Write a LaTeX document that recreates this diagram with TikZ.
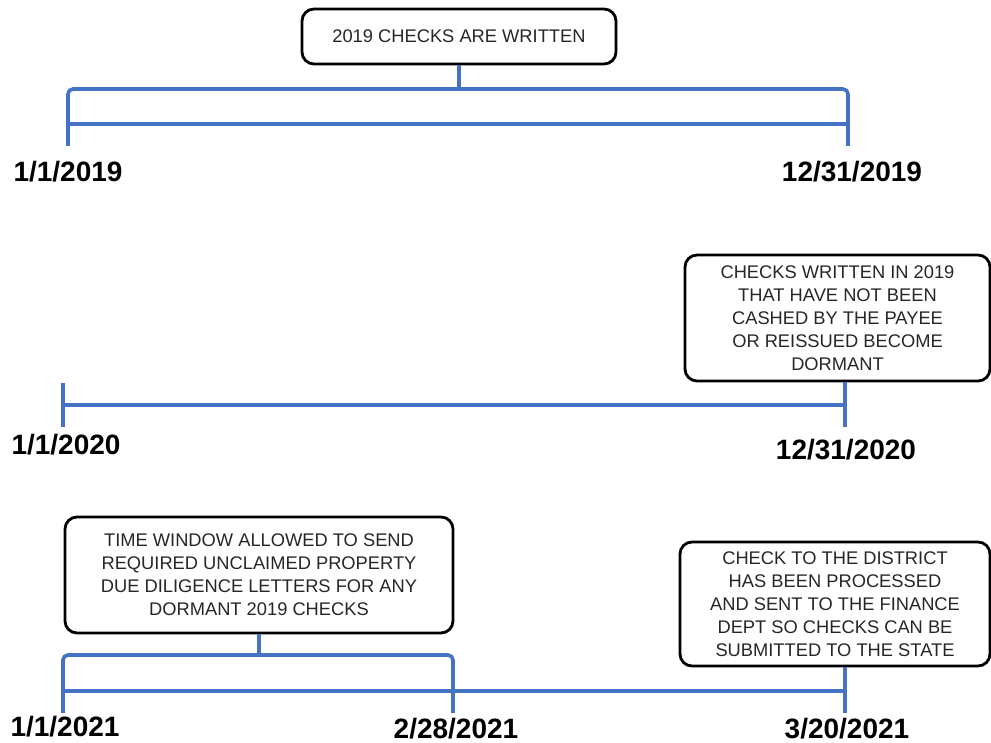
\documentclass[tikz,border=0pt]{standalone}
\usepackage{fontspec}
\setmainfont{Liberation Sans}
\usetikzlibrary{positioning}
\definecolor{lineblue}{RGB}{68,114,196}

\begin{document}
\begin{tikzpicture}[x=1pt, y=-1pt,
    tl/.style={draw=lineblue, line width=3.6pt},
    tick/.style={draw=lineblue, line width=4.2pt},
    note/.style={draw, line width=2.8pt, rounded corners=12pt, align=center,
      inner sep=0pt, text=black!85, font=\fontsize{18.3}{23}\selectfont},
    date/.style={anchor=base, font=\fontsize{28}{30}\selectfont\bfseries}]
    \useasboundingbox (0,0) rectangle (991,742);
    % Year 2019
    \coordinate (s19) at (68,124);
    \coordinate (e19) at (848,124);
    \draw[tl] (s19) -- (e19);
    \foreach \p in {s19, e19} {
      \draw[tick] ([yshift=24pt]\p) -- ([yshift=-22pt]\p);
    }
    \draw[tl, rounded corners=5pt] ([yshift=24pt]s19) -- ([yshift=35pt]s19)
         -- ([yshift=35pt]e19) -- ([yshift=24pt]e19);
    \node[note, minimum width=314pt, minimum height=55pt] (w19) at (459,36.5)
         {2019 CHECKS ARE WRITTEN};
    \draw[tl] (w19.south) -- (w19.south |- 0,89);
    \node[date] (d19a) at (68,181) {1/1/2019};
    \node[date] (d19b) at (852,181) {12/31/2019};
    % Year 2020
    \coordinate (s20) at (63,405);
    \coordinate (e20) at (845,405);
    \draw[tl] (s20) -- (e20);
    \draw[tick] ([yshift=22pt]s20) -- ([yshift=-22pt]s20);
    \node[note, minimum width=305pt, minimum height=126pt] (n20) at (837.5,318)
         {CHECKS WRITTEN IN 2019\\THAT HAVE NOT BEEN\\CASHED BY THE PAYEE\\OR REISSUED BECOME\\DORMANT};
    \draw[tick] (n20.south -| e20) -- ([yshift=-22pt]e20);
    \node[date] (d20a) at (66,454) {1/1/2020};
    \node[date] (d20b) at (846,459) {12/31/2020};
    % Year 2021
    \coordinate (s21) at (63,691);
    \coordinate (m21) at (453,691);
    \coordinate (e21) at (845,691);
    \draw[tl] (s21) -- (e21);
    \foreach \p in {s21, m21} {
      \draw[tick] ([yshift=22pt]\p) -- ([yshift=-22pt]\p);
    }
    \draw[tl, rounded corners=5pt] ([yshift=22pt]s21) -- ([yshift=36pt]s21)
         -- ([yshift=36pt]m21) -- ([yshift=22pt]m21);
    \node[note, minimum width=388pt, minimum height=116pt] (n21a) at (259,575)
         {TIME WINDOW ALLOWED TO SEND\\REQUIRED UNCLAIMED PROPERTY\\DUE DILIGENCE LETTERS FOR ANY\\DORMANT 2019 CHECKS};
    \draw[tl] (n21a.south) -- (n21a.south |- 0,655);
    \node[note, minimum width=310pt, minimum height=124pt] (n21b) at (835,604)
         {CHECK TO THE DISTRICT\\HAS BEEN PROCESSED\\AND SENT TO THE FINANCE\\DEPT SO CHECKS CAN BE\\SUBMITTED TO THE STATE};
    \draw[tick] (n21b.south -| e21) -- ([yshift=-22pt]e21);
    \node[date] (d21a) at (65,736) {1/1/2021};
    \node[date] (d21b) at (456,738) {2/28/2021};
    \node[date] (d21c) at (847,738) {3/20/2021};
\end{tikzpicture}
\end{document}
